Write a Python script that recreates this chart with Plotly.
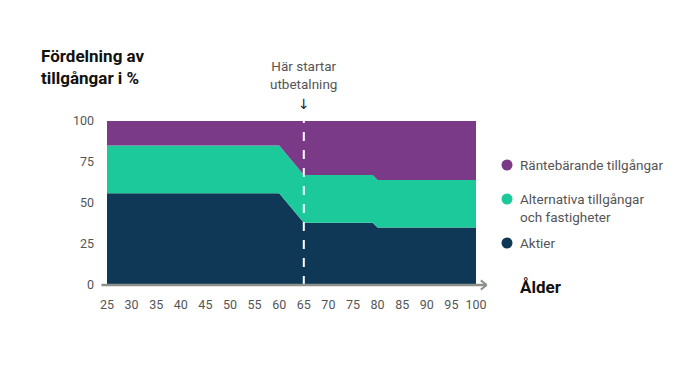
import plotly.graph_objects as go

ages = [25, 60, 65, 79, 80, 100]
aktier = [56, 56, 38, 38, 35, 35]
alternativa = [29, 29, 29, 29, 29, 29]
rantebarande = [15, 15, 33, 33, 36, 36]

x_ticks = list(range(25, 101, 5))
y_ticks = [0, 25, 50, 75, 100]

series_names = ["Aktier", "Alternativa tillgångar<br>och fastigheter", "Räntebärande tillgångar"]
series_colors = ["#0f3857", "#1bc99b", "#7b3a88"]
series_values = [aktier, alternativa, rantebarande]

FONT = "Roboto"
GRAY = "#555555"

# page body has 8px margin; compensate
OFF = 8
FW, FH = 700 - OFF, 384 - OFF
L, T, W, H = 107 - OFF, 121 - OFF, 369, 164

fig = go.Figure()
for name, col, vals in zip(series_names, series_colors, series_values):
    fig.add_trace(go.Scatter(
        x=ages, y=vals, name=name, mode="lines", stackgroup="one",
        line=dict(width=0, color=col), fillcolor=col, showlegend=False,
        hoverinfo="skip"))

# dashed vertical line at 65
fig.add_shape(type="line", x0=65, x1=65, y0=0, y1=100, xref="x", yref="y",
              line=dict(color="white", width=2, dash="dash"))

# x axis line with chevron arrow
fig.add_shape(type="line", x0=-0.015, x1=1.028, y0=0, y1=0, xref="paper", yref="paper",
              line=dict(color="#8c918c", width=2.5))
fig.add_shape(type="line", x0=1.013, x1=1.029, y0=0.028, y1=0, xref="paper", yref="paper",
              line=dict(color="#8c918c", width=2))
fig.add_shape(type="line", x0=1.013, x1=1.029, y0=-0.028, y1=0, xref="paper", yref="paper",
              line=dict(color="#8c918c", width=2))


def px_to_paper(px, py):
    return (px - OFF - L) / W, (T + H - (py - OFF)) / H


legend_items = [
    ("Räntebärande tillgångar", series_colors[2], 165, 165),
    ("Alternativa tillgångar<br>och fastigheter", series_colors[1], 199, 207.5),
    ("Aktier", series_colors[0], 243, 243),
]
for text, col, cy, ty in legend_items:
    cx, cyp = px_to_paper(507, cy)
    r = 5.5
    fig.add_shape(type="circle", xref="paper", yref="paper",
                  x0=cx - r / W, x1=cx + r / W, y0=cyp - r / H, y1=cyp + r / H,
                  fillcolor=col, line=dict(width=0))
    tx, typ = px_to_paper(518, ty)
    fig.add_annotation(text=text, xref="paper", yref="paper", x=tx, y=typ,
                       xanchor="left", yanchor="middle", showarrow=False, align="left",
                       font=dict(family=FONT, size=13.5, color=GRAY))

# Title
tx, ty = px_to_paper(39, 67)
fig.add_annotation(text="<b>Fördelning av<br>tillgångar i %</b>", xref="paper", yref="paper",
                   x=tx, y=ty, xanchor="left", yanchor="middle", showarrow=False, align="left",
                   font=dict(family=FONT, size=17, color="#111111"))

# Start of payout annotation
_, ty = px_to_paper(0, 75)
fig.add_annotation(text="Här startar<br>utbetalning", xref="x", yref="paper",
                   x=65, y=ty, xanchor="center", yanchor="middle", showarrow=False, align="center",
                   font=dict(family=FONT, size=13.5, color=GRAY))
_, ty = px_to_paper(0, 104)
fig.add_annotation(text="↓", xref="x", yref="paper",
                   x=65, y=ty, xanchor="center", yanchor="middle", showarrow=False,
                   font=dict(family="DejaVu Sans", size=14, color="#222222"))

# Ålder
tx, ty = px_to_paper(518, 287)
fig.add_annotation(text="<b>Ålder</b>", xref="paper", yref="paper",
                   x=tx, y=ty, xanchor="left", yanchor="middle", showarrow=False,
                   font=dict(family=FONT, size=17, color="#111111"))

fig.update_layout(
    width=FW, height=FH,
    margin=dict(l=L, r=FW - L - W, t=T, b=FH - T - H),
    plot_bgcolor="white", paper_bgcolor="white",
    showlegend=False,
    font=dict(family=FONT, color=GRAY, size=12),
    xaxis=dict(range=[25, 100], tickvals=x_ticks, ticktext=[str(v) for v in x_ticks],
               showgrid=False, zeroline=False, showline=False, ticks="",
               ticklabelstandoff=10, tickfont=dict(size=12.5, color=GRAY)),
    yaxis=dict(range=[0, 100], tickvals=y_ticks, ticktext=[str(v) for v in y_ticks],
               showgrid=False, zeroline=False, showline=False, ticks="",
               ticklabelstandoff=12, tickfont=dict(size=12.5, color=GRAY)),
)

fig.write_html("out.html")
